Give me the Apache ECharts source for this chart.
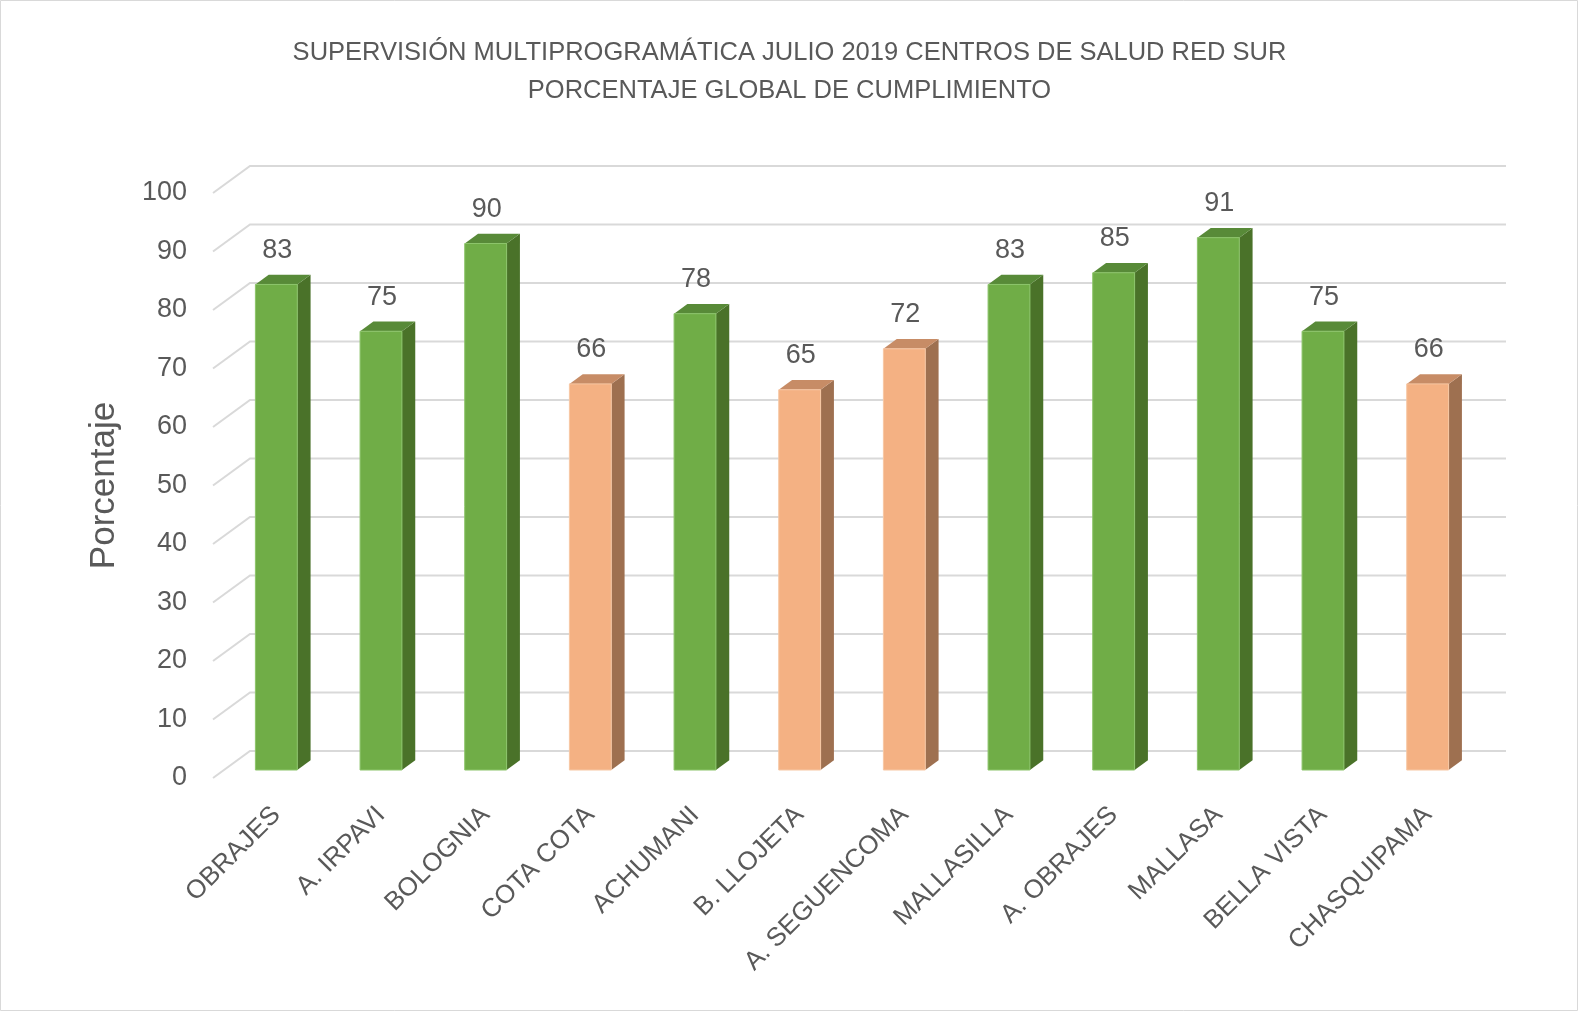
<!DOCTYPE html>
<html>
<head>
<meta charset="utf-8">
<style>html,body{margin:0;padding:0;background:#fff;}#c{width:1579px;height:1012px;}</style>
<script src="https://cdn.jsdelivr.net/npm/echarts@6/dist/echarts.min.js"></script>
</head>
<body>
<div id="c"></div>
<script>
var categories = ['OBRAJES','A. IRPAVI','BOLOGNIA','COTA COTA','ACHUMANI','B. LLOJETA','A. SEGUENCOMA','MALLASILLA','A. OBRAJES','MALLASA','BELLA VISTA','CHASQUIPAMA'];
var values = [83, 75, 90, 66, 78, 65, 72, 83, 85, 91, 75, 66];
var levels = ['alto','alto','alto','bajo','alto','bajo','bajo','alto','alto','alto','alto','bajo'];
var yTicks = [0,10,20,30,40,50,60,70,80,90,100];

var FONT = 'Liberation Sans';
var DEPTH = [37, -27];      // full floor depth in px
var BAR_DEPTH = 0.36;       // fraction of depth used by bar
var palette = {
  alto: {front:'#70ad47', side:'#4a7229', top:'#588a38', edge:'#8cc46a'},
  bajo: {front:'#f4b183', side:'#9e7050', top:'#c78c66', edge:'#f7c7a4'}
};

var chart = echarts.init(document.getElementById('c'), null, {renderer:'canvas'});

function gridRender(params, api) {
  var v = api.value(1);
  var bw = api.size([1,0])[0];
  var p0 = api.coord([0, v]);
  var p1 = api.coord([categories.length-1, v]);
  var L = p0[0] - bw/2, R = p1[0] + bw/2, y = p0[1];
  return {
    type:'polyline',
    shape:{points:[[L,y],[L+DEPTH[0],y+DEPTH[1]],[R+DEPTH[0],y+DEPTH[1]]]},
    style:{stroke:'#d9d9d9', lineWidth:2, fill:null}
  };
}

function barRender(params, api) {
  var i = api.value(0), v = api.value(1);
  var c = palette[levels[i]];
  var bw = api.size([1,0])[0]*0.4;
  var top = api.coord([i, v]);
  var base = api.coord([i, 0]);
  var xl = top[0]-bw/2, xr = top[0]+bw/2, yt = top[1], yb = base[1];
  var dx = DEPTH[0]*BAR_DEPTH, dy = DEPTH[1]*BAR_DEPTH;
  return {
    type:'group',
    children:[
      {type:'polygon', shape:{points:[[xr,yt],[xr+dx,yt+dy],[xr+dx,yb+dy],[xr,yb]]}, style:{fill:c.side}},
      {type:'polygon', shape:{points:[[xl,yt],[xl+dx,yt+dy],[xr+dx,yt+dy],[xr,yt]]}, style:{fill:c.top}},
      {type:'rect', shape:{x:xl, y:yt, width:bw, height:yb-yt}, style:{fill:c.front, stroke:c.edge, lineWidth:1}},
      {type:'text', style:{text:String(v), x:top[0]+1, y:yt-34, textAlign:'center', textVerticalAlign:'middle',
        fill:'#595959', font:'27px "'+FONT+'"'}}
    ]
  };
}

var option = {
  animation:false,
  backgroundColor:'#ffffff',
  title:{
    text:'SUPERVISIÓN MULTIPROGRAMÁTICA JULIO 2019 CENTROS DE SALUD RED SUR\nPORCENTAJE GLOBAL DE CUMPLIMIENTO',
    left:'center', top:29,
    textStyle:{fontFamily:FONT, fontSize:25.5, fontWeight:'normal', color:'#595959', lineHeight:38}
  },
  graphic:[{type:'rect', shape:{x:0.5,y:0.5,width:1577,height:1010}, style:{fill:null, stroke:'#d9d9d9', lineWidth:1}, silent:true}],
  grid:[
    {left:213, top:193, width:1256, height:585},
    {left:224, top:185, width:1256, height:585}
  ],
  xAxis:[
    {type:'category', gridIndex:0, data:categories, show:false},
    {type:'category', gridIndex:1, data:categories, axisLine:{show:false}, axisTick:{show:false},
     axisLabel:{rotate:45, interval:0, margin:41, color:'#595959', fontFamily:FONT, fontSize:26}}
  ],
  yAxis:[
    {type:'value', gridIndex:0, min:0, max:100, interval:10, axisLine:{show:false}, axisTick:{show:false}, splitLine:{show:false},
     axisLabel:{margin:26, color:'#595959', fontFamily:FONT, fontSize:27},
     name:'Porcentaje', nameLocation:'middle', nameRotate:90, nameGap:91,
     nameTextStyle:{color:'#595959', fontFamily:FONT, fontSize:35}},
    {type:'value', gridIndex:1, min:0, max:100, interval:10, show:false}
  ],
  series:[
    {type:'custom', xAxisIndex:0, yAxisIndex:0, z:1, silent:true,
     data:yTicks.map(function(t){return [0,t];}), renderItem:gridRender},
    {type:'custom', xAxisIndex:1, yAxisIndex:1, z:5, silent:true,
     data:values.map(function(v,i){return [i,v];}), renderItem:barRender}
  ]
};
chart.setOption(option);
</script>
</body>
</html>
